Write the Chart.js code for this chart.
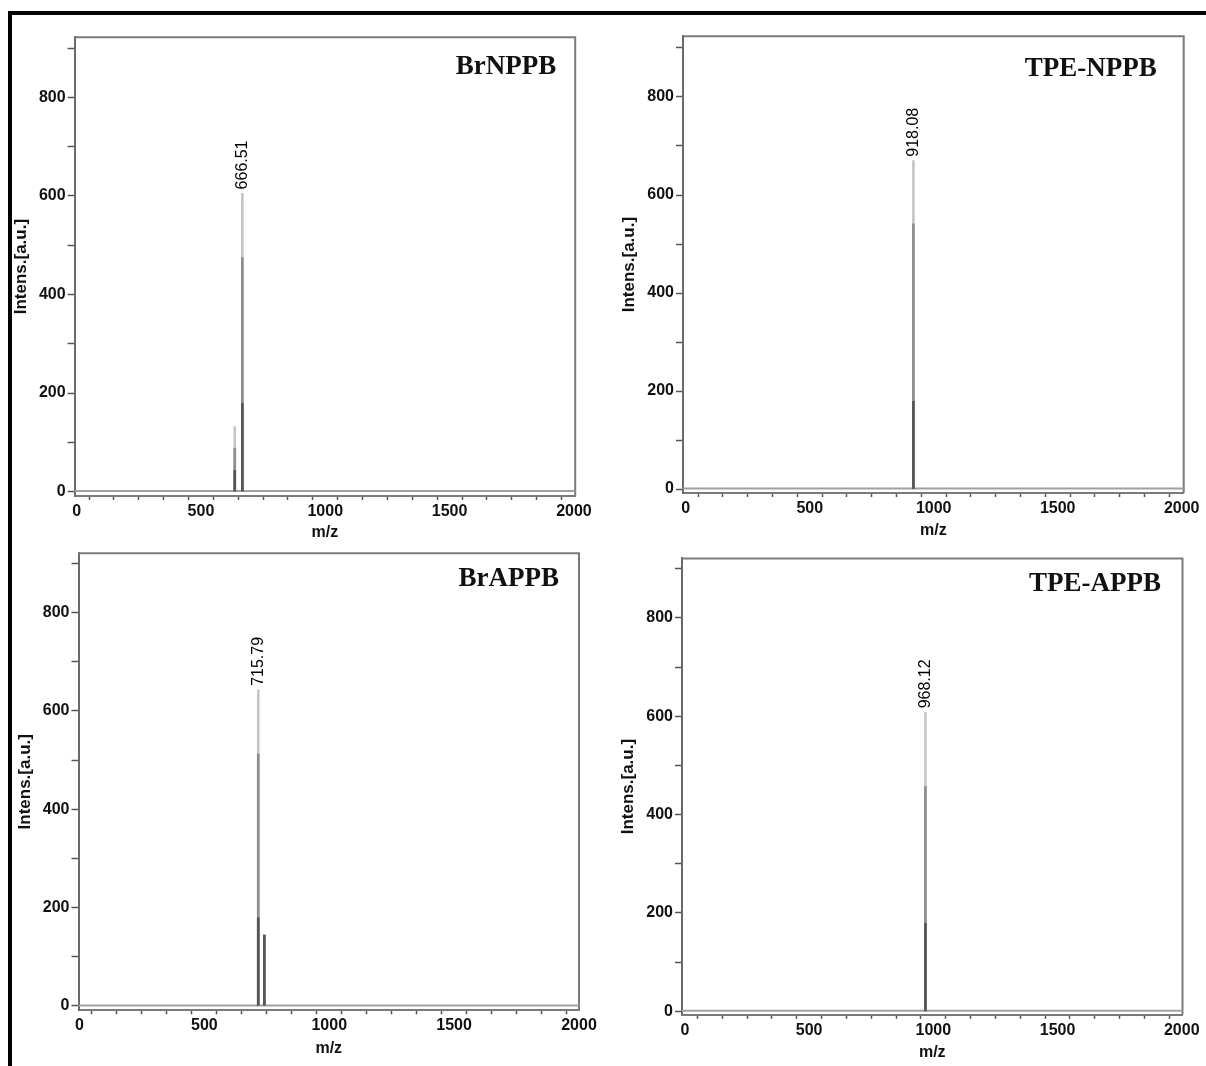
<!DOCTYPE html>
<html>
<head>
<meta charset="utf-8">
<script src="https://cdn.jsdelivr.net/npm/chart.js@4.4.1/dist/chart.umd.min.js"></script>
<style>
  body { margin: 0; background: #fff; width: 1206px; height: 1066px; position: relative; overflow: hidden; }
  #frame { position: absolute; left: 8px; top: 11px; right: 0; bottom: 0; border-top: 4px solid #000; border-left: 4px solid #000; }
  canvas.panel { position: absolute; }
</style>
</head>
<body>
<div id="frame"></div>
<script>
// spectrum names and the annotated peak of each one
const panelNames = ['BrNPPB', 'TPE-NPPB', 'BrAPPB', 'TPE-APPB'];
const peakLabels = ['666.51', '918.08', '715.79', '968.12'];

// peaks: m/z, top intensity, and the levels where the trace gets darker
const brnppbMz = [636, 666.51];
const brnppbIntens = [132, 605];
const brnppbMid = [88, 475];
const brnppbLow = [43, 179];

const tpenppbMz = [918.08];
const tpenppbIntens = [670];
const tpenppbMid = [541];
const tpenppbLow = [179];

const brappbMz = [715.79, 740];
const brappbIntens = [643, 144];
const brappbMid = [513, 144];
const brappbLow = [179, 144];

const tpeappbMz = [968.12];
const tpeappbIntens = [608];
const tpeappbMid = [457];
const tpeappbLow = [179];

// noise baseline
const baselineMz = [-20, 2020];
const baselineIntens = [1, 1];

// ticks
const xTicks = [0, 100, 200, 300, 400, 500, 600, 700, 800, 900, 1000, 1100, 1200, 1300, 1400, 1500, 1600, 1700, 1800, 1900, 2000];
const xTickLabels = ['0', '500', '1000', '1500', '2000'];
const yTicks = [0, 100, 200, 300, 400, 500, 600, 700, 800, 900];
const yTickLabels = ['0', '200', '400', '600', '800'];

// layout of each panel: plot box [left, top, right, bottom], axis ranges, text offsets
const panels = [
    { plot: [74.6, 37.2, 575.2, 496], x: [-8, 2005], y: [-9, 922], xTitleGap: 36, nameInset: 19, nameBase: 37,
      mz: brnppbMz, intens: brnppbIntens, mid: brnppbMid, low: brnppbLow, labelIdx: 1 },
    { plot: [683, 36.2, 1183.7, 493], x: [-11, 2008], y: [-8, 924], xTitleGap: 37, nameInset: 27, nameBase: 39.6,
      mz: tpenppbMz, intens: tpenppbIntens, mid: tpenppbMid, low: tpenppbLow, labelIdx: 0 },
    { plot: [78.5, 553.2, 579, 1010.3], x: [-4, 2000], y: [-9, 921], xTitleGap: 38, nameInset: 20, nameBase: 33,
      mz: brappbMz, intens: brappbIntens, mid: brappbMid, low: brappbLow, labelIdx: 0 },
    { plot: [682, 558.4, 1182.5, 1014.8], x: [-12, 2003], y: [-7, 921], xTitleGap: 38, nameInset: 21.5, nameBase: 33,
      mz: tpeappbMz, intens: tpeappbIntens, mid: tpeappbMid, low: tpeappbLow, labelIdx: 0 }
];

const sansFamily = '"Liberation Sans", Arial, sans-serif';
const tickFont = { family: sansFamily, size: 16, weight: 'bold' };
const xTitleFont = { family: sansFamily, size: 16, weight: 'bold' };
const yTitleFont = { family: sansFamily, size: 17, weight: 'bold' };

// grey box round the plot area (Chart.js only draws left and bottom axes)
const boxPlugin = {
    id: 'box',
    beforeDatasetsDraw(chart) {
        const { ctx, chartArea: a } = chart;
        ctx.save();
        ctx.strokeStyle = '#7a7a7a';
        ctx.lineWidth = 2;
        ctx.beginPath();
        ctx.moveTo(a.left, a.top);
        ctx.lineTo(a.right, a.top);
        ctx.lineTo(a.right, a.bottom);
        ctx.stroke();
        ctx.restore();
    }
};

// rotated m/z label above the main peak, and the compound name
const textPlugin = {
    id: 'peakText',
    afterDatasetsDraw(chart) {
        const p = chart.config.options.plugins.peakText;
        const { ctx, chartArea: a } = chart;
        const px = chart.scales.x.getPixelForValue(p.mz);
        const py = chart.scales.y.getPixelForValue(p.intens);
        ctx.save();
        ctx.fillStyle = '#000';
        ctx.font = '16px "Liberation Sans", Arial, sans-serif';
        ctx.translate(px, py - 4);
        ctx.rotate(-Math.PI / 2);
        ctx.textAlign = 'left';
        ctx.textBaseline = 'middle';
        ctx.fillText(p.label, 0, 0);
        ctx.restore();

        ctx.save();
        ctx.fillStyle = '#111';
        ctx.font = 'bold 27px "Liberation Serif", "Times New Roman", serif';
        ctx.textAlign = 'right';
        ctx.textBaseline = 'alphabetic';
        ctx.fillText(p.name, a.right - p.nameInset, a.top + p.nameBase);
        ctx.restore();
    }
};

function makePanel(panel, i) {
    const [L, T, R, B] = panel.plot;
    const cx = Math.round(L - 68);
    const cy = Math.round(T - 20);
    const cw = Math.round(R + 25) - cx;
    const ch = Math.round(B + panel.xTitleGap + 13.6) - cy;

    const canvas = document.createElement('canvas');
    canvas.className = 'panel';
    canvas.width = cw;
    canvas.height = ch;
    canvas.style.left = cx + 'px';
    canvas.style.top = cy + 'px';
    document.body.appendChild(canvas);

    const toPoints = vals => panel.mz.map((m, k) => ({ x: m, y: vals[k] }));
    const barStyle = { type: 'bar', barThickness: 2, grouped: false, borderWidth: 0 };

    new Chart(canvas.getContext('2d'), {
        type: 'bar',
        data: {
            datasets: [
                { ...barStyle, data: toPoints(panel.low), backgroundColor: '#555555', order: 1 },
                { ...barStyle, data: toPoints(panel.mid), backgroundColor: '#8e8e8e', order: 2 },
                { ...barStyle, data: toPoints(panel.intens), backgroundColor: '#c6c6c6', order: 3 },
                {
                    type: 'line',
                    data: baselineMz.map((m, k) => ({ x: m, y: baselineIntens[k] })),
                    borderColor: '#a0a0a0',
                    borderWidth: 2,
                    pointRadius: 0,
                    order: 4
                }
            ]
        },
        options: {
            responsive: false,
            animation: false,
            devicePixelRatio: 1,
            layout: { padding: { top: T - cy, right: cx + cw - R, bottom: 0, left: 0 } },
            plugins: {
                legend: { display: false },
                tooltip: { enabled: false },
                peakText: {
                    mz: panel.mz[panel.labelIdx],
                    intens: panel.intens[panel.labelIdx],
                    label: peakLabels[i],
                    name: panelNames[i],
                    nameInset: panel.nameInset,
                    nameBase: panel.nameBase
                }
            },
            scales: {
                x: {
                    type: 'linear',
                    offset: false,
                    min: panel.x[0],
                    max: panel.x[1],
                    afterBuildTicks: s => { s.ticks = xTicks.map(v => ({ value: v })); },
                    afterFit: s => { s.height = cy + ch - B; },
                    ticks: {
                        autoSkip: false,
                        maxRotation: 0,
                        padding: 2,
                        color: '#111',
                        font: tickFont,
                        callback: v => xTickLabels.includes(String(v)) ? String(v) : ''
                    },
                    grid: { drawOnChartArea: false, tickLength: 4, tickColor: '#555', tickWidth: 1.5 },
                    border: { color: '#7a7a7a', width: 2 },
                    title: { display: true, text: 'm/z', color: '#111', font: xTitleFont, padding: { top: 0, bottom: 4 } }
                },
                y: {
                    type: 'linear',
                    min: panel.y[0],
                    max: panel.y[1],
                    afterBuildTicks: s => { s.ticks = yTicks.map(v => ({ value: v })); },
                    afterFit: s => { s.width = L - cx; },
                    ticks: {
                        autoSkip: false,
                        padding: 2,
                        color: '#111',
                        font: tickFont,
                        callback: v => yTickLabels.includes(String(v)) ? String(v) : ''
                    },
                    grid: { drawOnChartArea: false, tickLength: 7, tickColor: '#555', tickWidth: 1.5 },
                    border: { color: '#6a6a6a', width: 2 },
                    title: { display: true, text: 'Intens.[a.u.]', color: '#111', font: yTitleFont, padding: { top: 4, bottom: 0 } }
                }
            }
        },
        plugins: [boxPlugin, textPlugin]
    });
}

panels.forEach(makePanel);
</script>
</body>
</html>
